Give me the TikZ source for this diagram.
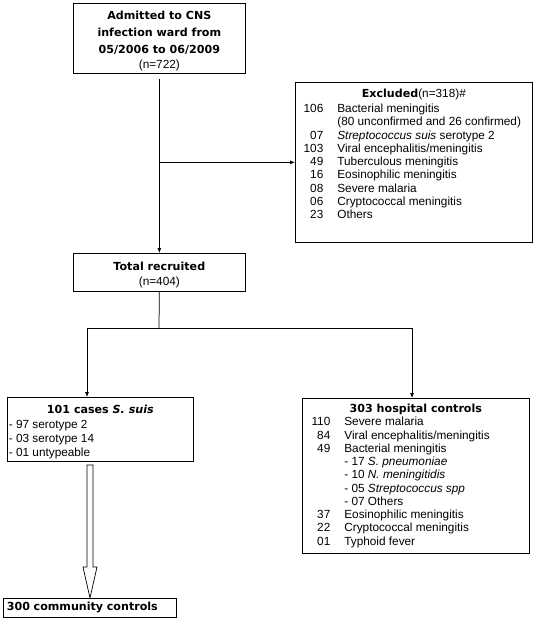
\documentclass[tikz,border=0pt]{standalone}
\usepackage{fontspec}
\setmainfont{Liberation Sans}
\newfontfamily\headfont{DejaVu Sans}
\usetikzlibrary{calc,shadows,arrows.meta}

\newcommand{\bodyfont}{\normalfont\fontsize{11.8}{13.25}\selectfont}
\newcommand{\headline}{\headfont\bfseries\fontsize{11.1}{17}\selectfont}
% one counted line: number right aligned, then its label
\newcommand{\cnt}[2]{\makebox[26pt][r]{#1}\hspace{14pt}#2\par}

\begin{document}
\begin{tikzpicture}[x=1pt,y=-1pt]
	\tikzstyle{box} = [draw, rectangle, line width=0.7pt, inner sep=0pt, anchor=north west, fill=white,
		drop shadow={shadow xshift=0.8pt, shadow yshift=-0.8pt, fill=black!75, opacity=1}, font={\bodyfont}];
	\tikzstyle{line} = [line width=0.75pt];
	\tikzstyle{point} = [->, >={Latex[length=5pt, width=4pt]}, line width=0.75pt];
	\tikzstyle{hollow} = [draw, line width=0.7pt, fill=white];

	\useasboundingbox (0,0) rectangle (537,627);

	\node[box, minimum width=172pt, minimum height=70pt, align=center, font={\headline}] (adm) at (73,3)
		{\rule{0pt}{13pt}Admitted to CNS\\ infection ward from\\ 05/2006 to 06/2009\\[-2pt] {\bodyfont (n=722)}};

	\node[box, minimum width=237pt, minimum height=160pt] (excl) at (295,82) {%
		\begin{minipage}[t][156pt][t]{233pt}
			\vspace{5pt}\centering {\headline Excluded}{\bodyfont(n=318)\#}\par\vspace{1.5pt}
			\raggedright
			\cnt{106}{Bacterial meningitis}
			\cnt{}{(80 unconfirmed and 26 confirmed)}
			\cnt{07}{\textit{Streptococcus suis} serotype 2}
			\cnt{103}{Viral encephalitis/meningitis}
			\cnt{49}{Tuberculous meningitis}
			\cnt{16}{Eosinophilic meningitis}
			\cnt{08}{Severe malaria}
			\cnt{06}{Cryptococcal meningitis}
			\cnt{23}{Others}
		\end{minipage}};

	\node[box, minimum width=172pt, minimum height=38pt] (total) at (73,253) {%
		\begin{minipage}{168pt}
			\vspace*{5pt}\centering {\headline Total recruited}\par\vspace{1.5pt}
			(n=404)\par
		\end{minipage}};

	\node[box, minimum width=186pt, minimum height=64pt] (suis) at (7,397) {%
		\begin{minipage}{183pt}
			\vspace*{5pt}\centering {\headline 101 cases \textit{S. suis}}\par\vspace{1pt}
			\raggedright\fontsize{11.8}{14}\selectfont
			- 97 serotype 2\par
			- 03 serotype 14\par
			- 01 untypeable\par
		\end{minipage}};

	\node[box, minimum width=227pt, minimum height=155pt] (hosp) at (302,398) {%
		\begin{minipage}{223pt}
			\centering {\headline 303 hospital controls}\par
			\raggedright
			\cnt{110}{Severe malaria}
			\cnt{84}{Viral encephalitis/meningitis}
			\cnt{49}{Bacterial meningitis}
			\cnt{}{- 17 \textit{S. pneumoniae}}
			\cnt{}{- 10 \textit{N. meningitidis}}
			\cnt{}{- 05 \textit{Streptococcus spp}}
			\cnt{}{- 07 Others}
			\cnt{37}{Eosinophilic meningitis}
			\cnt{22}{Cryptococcal meningitis}
			\cnt{01}{Typhoid fever}
		\end{minipage}};

	\node[box, minimum width=173pt, minimum height=19pt, text width=166pt, align=left, font={\headline}] (comm) at (3,598)
		{300 community controls};

	% connectors
	\coordinate (split) at (159,328);
	\coordinate (lbranch) at (87,328);
	\coordinate (rbranch) at (412,328);
	\coordinate (ftop) at (90,465);
	\coordinate (fhead) at (90,567);

	\draw[point, shorten <=5pt] (adm.south) -- (total.north);
	\draw[point] (adm.south |- excl.west) -- (excl.west);
	\draw[line] (total.south) -- (split);
	\draw[line] (lbranch) -- (rbranch);
	\draw[point] (lbranch) -- (lbranch |- suis.north);
	\draw[point] (rbranch) -- (rbranch |- hosp.north);

	\draw[hollow] ($(ftop)+(-3,0)$) -- ($(ftop)+(3,0)$) -- ($(fhead)+(3,0)$) -- ($(fhead)+(7,0)$)
		-- (fhead |- comm.north) -- ($(fhead)+(-7,0)$) -- ($(fhead)+(-3,0)$) -- cycle;
\end{tikzpicture}
\end{document}
